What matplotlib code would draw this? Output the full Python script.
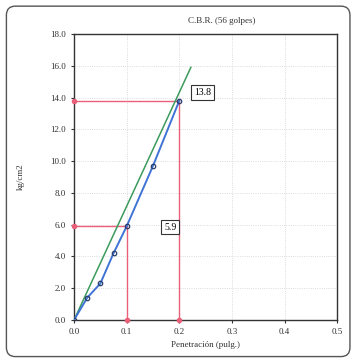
import matplotlib.pyplot as plt
from matplotlib.patches import FancyBboxPatch

# data
penetracion = [0.0, 0.025, 0.05, 0.075, 0.1, 0.15, 0.2]
carga = [0.0, 1.4, 2.3, 4.2, 5.9, 9.7, 13.8]
corr_x = [0.0, 0.222]
corr_y = [0.0, 15.9]
lecturas_x = [0.1, 0.2]
lecturas_y = [5.9, 13.8]
xticks = [0.0, 0.1, 0.2, 0.3, 0.4, 0.5]
yticks = [0, 2, 4, 6, 8, 10, 12, 14, 16, 18]

plt.rcParams['font.family'] = ['Liberation Serif', 'DejaVu Serif']

fig = plt.figure(figsize=(3.56, 3.62), dpi=100)
fig.patches.append(FancyBboxPatch((0.018, 0.015), 0.965, 0.968, boxstyle="round,pad=0,rounding_size=0.025",
                                  transform=fig.transFigure, fill=False, ec='#555555', lw=1.0))
ax = fig.add_axes([0.208, 0.116, 0.739, 0.79])

red = '#e8607a'
for xv, yv in zip(lecturas_x, lecturas_y):
    ax.plot([0, xv], [yv, yv], color=red, lw=1.0, zorder=2)
    ax.plot([xv, xv], [0, yv], color=red, lw=1.0, zorder=2)
    ax.plot([0, xv], [yv, 0], 'o', color=red, ms=3, clip_on=False, zorder=3)

ax.plot(corr_x, corr_y, color='#3c9a5c', lw=1.1, zorder=3)
ax.plot(penetracion, carga, color='#3f73d6', lw=1.4, marker='o', ms=3.2,
        mfc='none', mec='#2a3f6a', mew=0.9, zorder=4)

ax.text(0.244, 14.3, '13.8', fontsize=7, ha='center', va='center',
        bbox=dict(boxstyle='square,pad=0.3', fc='white', ec='#333333', lw=0.8))
ax.text(0.183, 5.85, '5.9', fontsize=7, ha='center', va='center',
        bbox=dict(boxstyle='square,pad=0.3', fc='white', ec='#333333', lw=0.8))

ax.set_xlim(0, 0.5)
ax.set_ylim(0, 18)
ax.set_xticks(xticks)
ax.set_xticklabels([f'{v:.1f}' for v in xticks])
ax.set_yticks(yticks)
ax.set_yticklabels([f'{v:.1f}' for v in yticks])
ax.tick_params(labelsize=6.5, length=2.5, width=0.8, color='#333333', labelcolor='#333333')
ax.grid(True, color='#d0d0d0', lw=0.6, ls=':')
for s in ax.spines.values():
    s.set_color('#333333')
    s.set_linewidth(1.0)

ax.set_title('C.B.R. (56 golpes)', fontsize=6.5, color='#333333', x=0.56, pad=8)
ax.set_xlabel('Penetración (pulg.)', fontsize=6.5, color='#333333', labelpad=3)
ax.set_ylabel('kg/cm2', fontsize=6.5, color='#333333', labelpad=18)

fig.savefig('out.png', dpi=100)
